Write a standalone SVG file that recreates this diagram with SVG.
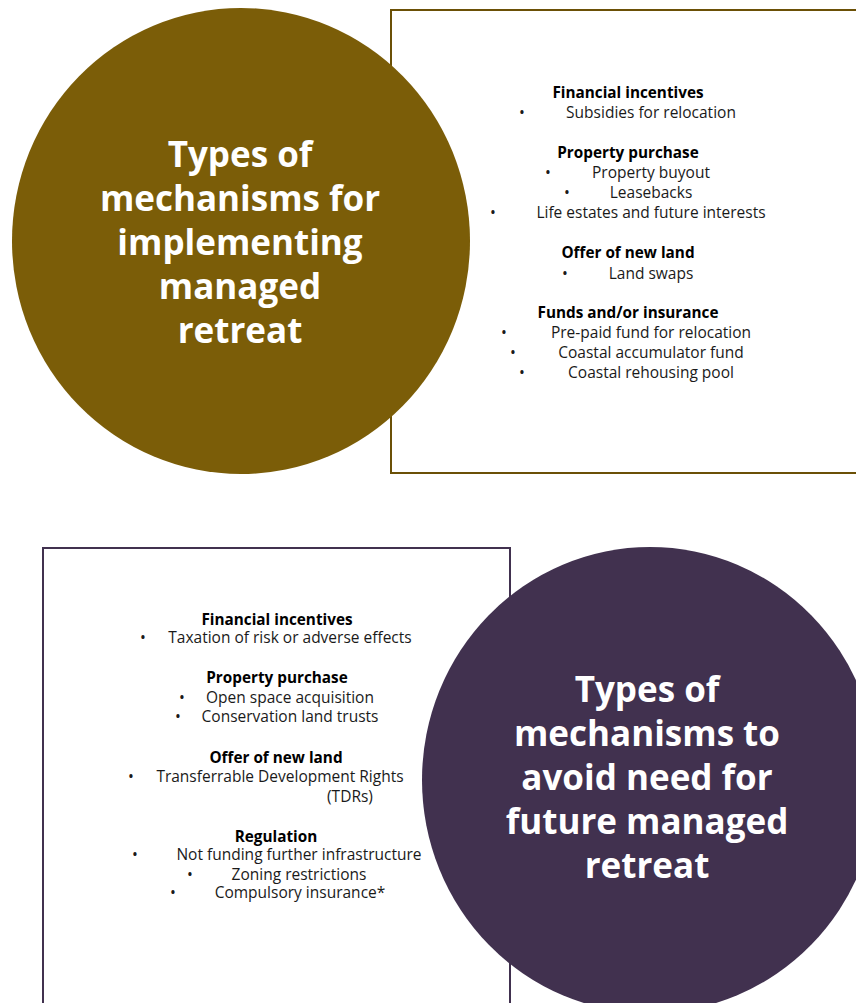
<svg xmlns="http://www.w3.org/2000/svg" width="856" height="1003" viewBox="0 0 856 1003">
  <style>
    .title { font-family: "Open Sans", "Liberation Sans", sans-serif; font-weight: 700; font-size: 35px; fill: #ffffff; text-anchor: middle; }
    .head { font-family: "Open Sans", "Liberation Sans", sans-serif; font-weight: 700; font-size: 15.3px; fill: #000000; text-anchor: middle; }
    .item { font-family: "Open Sans", "Liberation Sans", sans-serif; font-size: 15.5px; fill: #1a1a1a; text-anchor: middle; }
    .box-gold { fill: #ffffff; stroke: #6b5006; stroke-width: 2; }
    .box-plum { fill: #ffffff; stroke: #41314f; stroke-width: 2; }
    .disc-gold { fill: #7b5d08; }
    .disc-plum { fill: #41314f; }
  </style>
  <rect width="856" height="1003" fill="#ffffff"/>

  <!-- no connecting lines in this layout; boxes and discs overlap -->
  <g id="connectors"></g>

  <!-- top panel: implementation mechanisms -->
  <g id="implement-list">
    <rect class="box-gold" x="391" y="10" width="480" height="463"/>
    <text class="head" x="628" y="98">Financial incentives</text>
    <text class="item" x="522" y="118">•</text>
    <text class="item" x="651" y="118">Subsidies for relocation</text>

    <text class="head" x="628" y="158">Property purchase</text>
    <text class="item" x="548" y="178">•</text>
    <text class="item" x="651" y="178">Property buyout</text>
    <text class="item" x="567" y="198">•</text>
    <text class="item" x="651" y="198">Leasebacks</text>
    <text class="item" x="493" y="218">•</text>
    <text class="item" x="651" y="218">Life estates and future interests</text>

    <text class="head" x="628" y="258">Offer of new land</text>
    <text class="item" x="565" y="279">•</text>
    <text class="item" x="651" y="279">Land swaps</text>

    <text class="head" x="628" y="318">Funds and/or insurance</text>
    <text class="item" x="504" y="338">•</text>
    <text class="item" x="651" y="338">Pre-paid fund for relocation</text>
    <text class="item" x="513" y="358">•</text>
    <text class="item" x="651" y="358">Coastal accumulator fund</text>
    <text class="item" x="522" y="378">•</text>
    <text class="item" x="651" y="378">Coastal rehousing pool</text>
  </g>

  <!-- top disc -->
  <g id="implement-title">
    <ellipse class="disc-gold" cx="241" cy="241" rx="229" ry="233"/>
    <text class="title" x="240" y="167">Types of</text>
    <text class="title" x="240" y="211">mechanisms for</text>
    <text class="title" x="240" y="255">implementing</text>
    <text class="title" x="240" y="299">managed</text>
    <text class="title" x="240" y="343">retreat</text>
  </g>

  <!-- bottom panel: avoidance mechanisms -->
  <g id="avoid-list">
    <rect class="box-plum" x="43" y="548" width="467" height="480"/>
    <text class="head" x="277" y="625">Financial incentives</text>
    <text class="item" x="143" y="643">•</text>
    <text class="item" x="290" y="643">Taxation of risk or adverse effects</text>

    <text class="head" x="277" y="683">Property purchase</text>
    <text class="item" x="182" y="703">•</text>
    <text class="item" x="290" y="703">Open space acquisition</text>
    <text class="item" x="178" y="722">•</text>
    <text class="item" x="290" y="722">Conservation land trusts</text>

    <text class="head" x="276" y="763">Offer of new land</text>
    <text class="item" x="131" y="782">•</text>
    <text class="item" x="280" y="782">Transferrable Development Rights</text>
    <text class="item" x="350" y="802">(TDRs)</text>

    <text class="head" x="276" y="842">Regulation</text>
    <text class="item" x="135" y="860">•</text>
    <text class="item" x="299" y="860">Not funding further infrastructure</text>
    <text class="item" x="190" y="880">•</text>
    <text class="item" x="299" y="880">Zoning restrictions</text>
    <text class="item" x="173" y="898">•</text>
    <text class="item" x="300" y="898">Compulsory insurance*</text>
  </g>

  <!-- bottom disc -->
  <g id="avoid-title">
    <ellipse class="disc-plum" cx="650" cy="780" rx="228" ry="233"/>
    <text class="title" x="647" y="702">Types of</text>
    <text class="title" x="647" y="746">mechanisms to</text>
    <text class="title" x="647" y="790">avoid need for</text>
    <text class="title" x="647" y="834">future managed</text>
    <text class="title" x="647" y="878">retreat</text>
  </g>
</svg>
